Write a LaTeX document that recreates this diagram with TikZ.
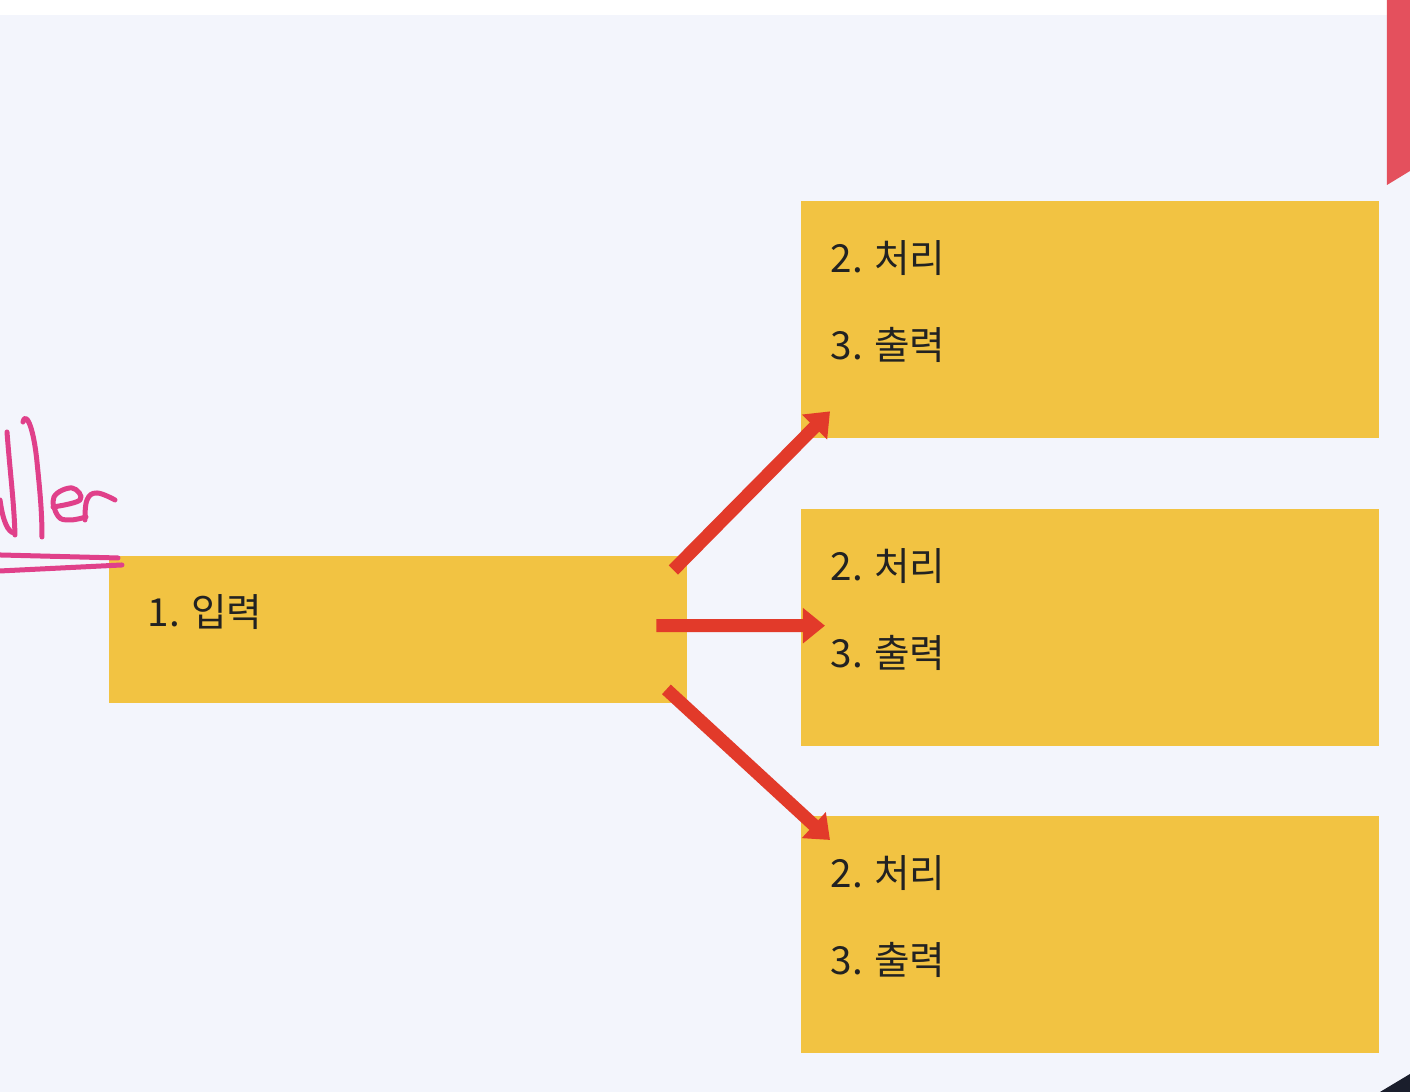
\documentclass[tikz,border=0pt]{standalone}
\usepackage{fontspec}
\setmainfont{Noto Sans CJK KR}
\usepackage{tikz}
\usetikzlibrary{positioning,calc}
\usetikzlibrary{arrows.meta}
\definecolor{PageBg}{RGB}{243,245,252}
\definecolor{BoxYellow}{RGB}{242,195,66}
\definecolor{ArrowRed}{RGB}{226,58,42}
\definecolor{InkPink}{RGB}{224,64,138}
\definecolor{TabRed}{RGB}{228,80,93}
\definecolor{CornerDark}{RGB}{26,30,44}
\definecolor{TextDark}{RGB}{34,34,34}
\tikzset{
  stepbox/.style={fill=BoxYellow,draw=none,anchor=north west,minimum width=5.78cm,inner sep=0pt},
  item/.style={anchor=west,inner sep=0pt,text=TextDark,font=\fontsize{11pt}{13pt}\selectfont},
  flow/.style={draw=ArrowRed,line width=0.13cm,-{Triangle[length=0.22cm,width=0.34cm]}},
  ink/.style={draw=InkPink,line width=0.05cm,line cap=round,line join=round},
}

\begin{document}
\begin{tikzpicture}
\useasboundingbox (0,0) rectangle (14.10,10.92);
\fill[PageBg] (0,0) rectangle (14.10,10.92);
\fill[white] (0,10.77) rectangle (14.10,10.92);
\fill[TabRed] (13.87,10.92) -- (14.10,10.92) -- (14.10,9.21) -- (13.87,9.07) -- cycle;
\fill[CornerDark] (13.80,0) -- (14.10,0.18) -- (14.10,0) -- cycle;
% boxes
\node[stepbox,minimum height=1.47cm] (input) at (1.08,5.37) {};
\node[stepbox,minimum height=2.37cm] (proc1) at (8.00,8.92) {};
\node[stepbox,minimum height=2.37cm] (proc2) at (8.00,5.84) {};
\node[stepbox,minimum height=2.37cm] (proc3) at (8.00,2.77) {};
\node[item] (input-a) at ($(input.north west)+(0.39,-0.57)$) {1. 입력};
\node[item] (proc1-a) at ($(proc1.north west)+(0.30,-0.58)$) {2. 처리};
\node[item] (proc1-b) at ($(proc1.north west)+(0.30,-1.45)$) {3. 출력};
\node[item] (proc2-a) at ($(proc2.north west)+(0.30,-0.58)$) {2. 처리};
\node[item] (proc2-b) at ($(proc2.north west)+(0.30,-1.45)$) {3. 출력};
\node[item] (proc3-a) at ($(proc3.north west)+(0.30,-0.58)$) {2. 처리};
\node[item] (proc3-b) at ($(proc3.north west)+(0.30,-1.45)$) {3. 출력};
% arrows
\coordinate (up-s) at ($(input.north east)+(-0.14,-0.15)$);
\coordinate (up-e) at ($(proc1.south west)+(0.30,0.27)$);
\coordinate (mid-s) at ($(input.east)+(-0.31,0.035)$);
\coordinate (mid-e) at ($(proc2.west)+(0.25,0.015)$);
\coordinate (down-s) at ($(input.south east)+(-0.21,0.14)$);
\coordinate (down-e) at ($(proc3.north west)+(0.30,-0.25)$);
\draw[flow] (up-s) -- (up-e);
\draw[flow] (mid-s) -- (mid-e);
\draw[flow] (down-s) -- (down-e);
% handwriting
\draw[ink] (0.0,5.92) .. controls (0.03,5.70) and (0.08,5.60) .. (0.14,5.59);
\draw[ink] (0.07,6.60) .. controls (0.10,6.20) and (0.14,5.90) .. (0.15,5.57);
\draw[ink] (0.23,6.70) .. controls (0.25,6.80) and (0.33,6.70) .. (0.37,6.30) .. controls (0.40,6.00) and (0.42,5.80) .. (0.42,5.55);
\draw[ink] plot[smooth,tension=0.7] coordinates {(0.53,5.85) (0.80,5.92) (0.72,6.04) (0.54,5.95) (0.58,5.76) (0.70,5.72) (0.86,5.75)};
\draw[ink] plot[smooth,tension=0.7] coordinates {(0.85,5.72) (0.87,5.92) (0.97,5.99) (1.15,5.92)};
\draw[ink] (0,5.37) -- (1.18,5.34);
\draw[ink] (0,5.21) -- (1.22,5.27);
\end{tikzpicture}
\end{document}
